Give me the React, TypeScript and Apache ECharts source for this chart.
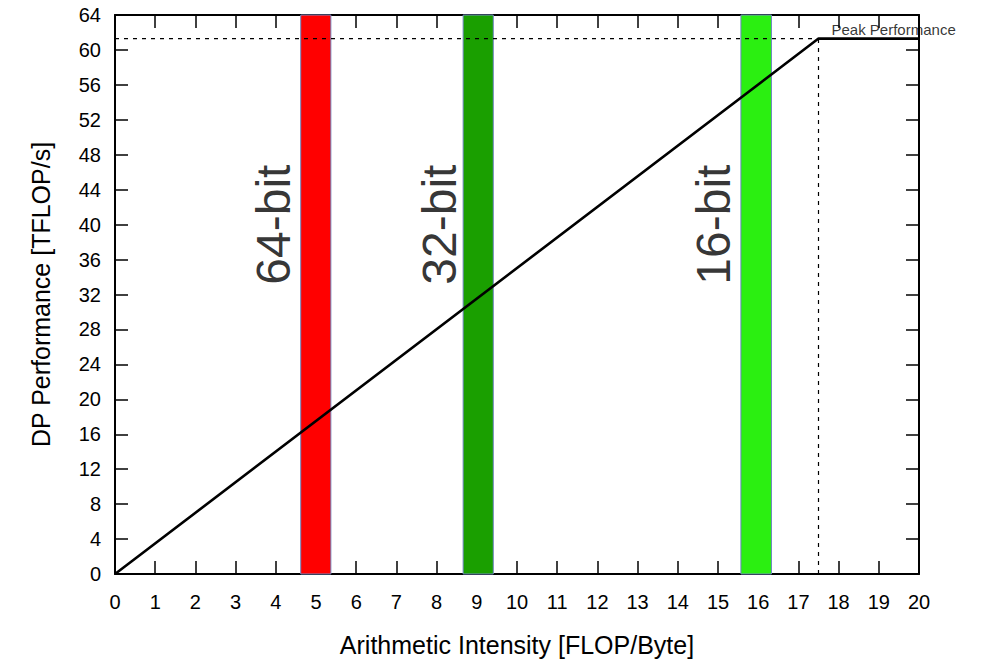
import React, { useEffect, useRef } from "react";
import * as echarts from "echarts";

// ---- data ----
const xMin = 0;
const xMax = 20;
const yMin = 0;
const yMax = 64;
const peakPerf = 61.3; // TFLOP/s
const ridgeAI = 17.5; // FLOP/Byte
const rooflineX = [0, ridgeAI, 20];
const rooflineY = [0, peakPerf, peakPerf];

const bandLabels = ["64-bit", "32-bit", "16-bit"];
const bandStart = [4.62, 8.66, 15.57];
const bandEnd = [5.37, 9.41, 16.33];
const bandColors = ["#ff0000", "#1a9f00", "#2bef11"];
const labelX = [3.94, 8.06, 14.88];
const labelY = [40, 40, 40];

const peakLabel = "Peak Performance";

const FONT = "'Liberation Sans', Arial, sans-serif";

export default function App() {
  const ref = useRef<HTMLDivElement>(null);

  useEffect(() => {
    if (!ref.current) return;
    const chart = echarts.init(ref.current, undefined, { renderer: "svg" });

    const axisLine = { show: true, onZero: false, lineStyle: { color: "#000", width: 2 } };
    const axisTick = { show: true, inside: true, length: 13, lineStyle: { color: "#000", width: 1.5 } };

    const option: any = {
      animation: false,
      backgroundColor: "#fff",
      textStyle: { fontFamily: FONT },
      grid: { left: 115, right: 39, top: 15, bottom: 86, containLabel: false },
      xAxis: [
        {
          type: "value",
          min: xMin,
          max: xMax,
          interval: 1,
          position: "bottom",
          name: "Arithmetic Intensity [FLOP/Byte]",
          nameLocation: "middle",
          nameGap: 58,
          nameTextStyle: { fontSize: 25, color: "#000", fontFamily: FONT },
          axisLine,
          axisTick,
          splitLine: { show: false },
          axisLabel: { fontSize: 20, color: "#000", margin: 18, fontFamily: FONT },
        },
        {
          type: "value",
          min: xMin,
          max: xMax,
          interval: 1,
          position: "top",
          axisLine,
          axisTick,
          splitLine: { show: false },
          axisLabel: { show: false },
        },
      ],
      yAxis: [
        {
          type: "value",
          min: yMin,
          max: yMax,
          interval: 4,
          position: "left",
          name: "DP Performance [TFLOP/s]",
          nameLocation: "middle",
          nameRotate: 90,
          nameGap: 62,
          nameTextStyle: { fontSize: 25, color: "#000", fontFamily: FONT },
          axisLine,
          axisTick,
          splitLine: { show: false },
          axisLabel: { fontSize: 20, color: "#000", margin: 14, fontFamily: FONT },
        },
        {
          type: "value",
          min: yMin,
          max: yMax,
          interval: 4,
          position: "right",
          axisLine,
          axisTick,
          splitLine: { show: false },
          axisLabel: { show: false },
        },
      ],
      series: [
        {
          type: "line",
          z: 1,
          data: [],
          silent: true,
          markArea: {
            silent: true,
            data: bandStart.map((s, i) => [
              {
                xAxis: s,
                yAxis: yMin,
                itemStyle: { color: bandColors[i], borderColor: "#6f86c0", borderWidth: 1, opacity: 1 },
              },
              { xAxis: bandEnd[i], yAxis: yMax },
            ]),
          },
        },
        {
          type: "line",
          z: 3,
          silent: true,
          showSymbol: false,
          data: [
            [xMin, peakPerf],
            [ridgeAI, peakPerf],
          ],
          lineStyle: { color: "#000", width: 1.2, type: [4, 5] },
        },
        {
          type: "line",
          z: 3,
          silent: true,
          showSymbol: false,
          data: [
            [ridgeAI, yMin],
            [ridgeAI, peakPerf],
          ],
          lineStyle: { color: "#000", width: 1.2, type: [4, 5] },
        },
        {
          type: "line",
          z: 4,
          silent: true,
          showSymbol: false,
          data: rooflineX.map((x, i) => [x, rooflineY[i]]),
          lineStyle: { color: "#000", width: 2.6 },
        },
        {
          type: "scatter",
          z: 5,
          silent: true,
          symbolSize: 0,
          data: bandLabels.map((n, i) => ({ name: n, value: [labelX[i], labelY[i]] })),
          label: {
            show: true,
            position: "inside",
            rotate: 90,
            formatter: (p: any) => p.name,
            fontSize: 48,
            color: "#000",
            fontFamily: FONT,
            align: "center",
            verticalAlign: "middle",
          },
        },
        {
          type: "scatter",
          z: 5,
          silent: true,
          symbolSize: 0,
          data: [{ name: peakLabel, value: [ridgeAI, peakPerf] }],
          label: {
            show: true,
            position: [13, -17],
            formatter: (p: any) => p.name,
            fontSize: 15,
            color: "#000",
            fontFamily: FONT,
            align: "left",
            verticalAlign: "top",
          },
        },
      ],
    };

    chart.setOption(option);
    return () => chart.dispose();
  }, []);

  return (
    <div style={{ position: "fixed", left: 0, top: 0, width: 981, height: 662, background: "#fff" }}>
      <div ref={ref} style={{ width: 958, height: 662 }} />
    </div>
  );
}
